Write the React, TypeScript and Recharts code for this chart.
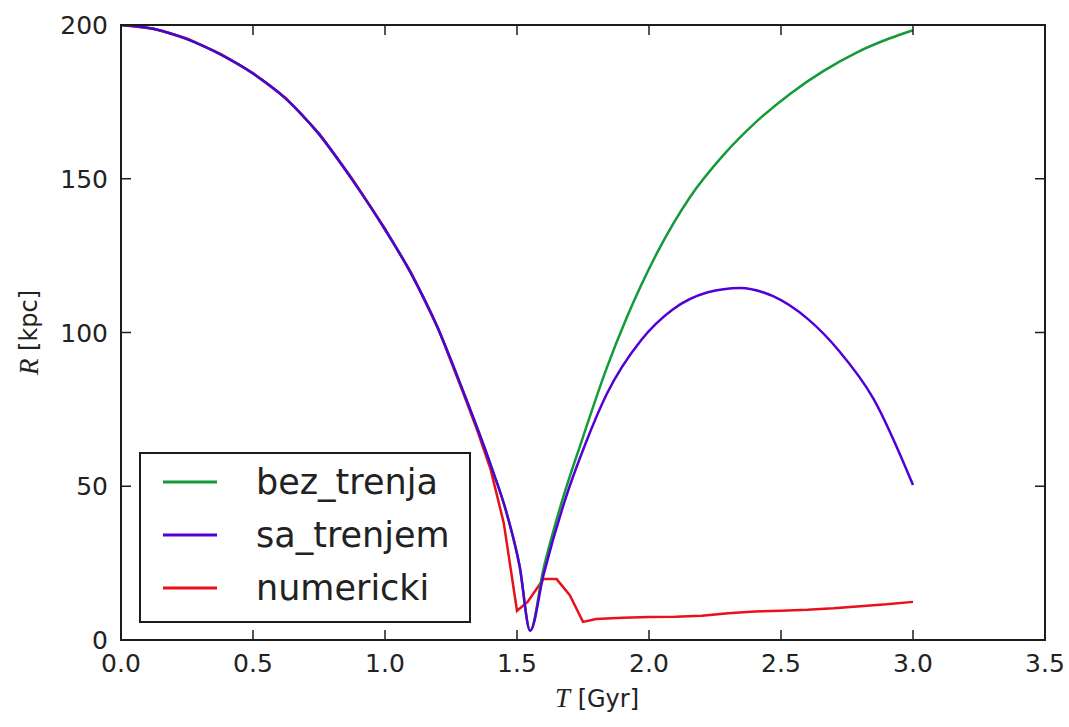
import { LineChart, Line, XAxis, YAxis, Legend, Label, ReferenceArea } from 'recharts';

// values (T in Gyr, R in kpc)
const T_BEZ = [0, 0.125, 0.25, 0.375, 0.5, 0.625, 0.75, 0.875, 1.0, 1.1, 1.2, 1.3, 1.4, 1.46, 1.51, 1.55, 1.6, 1.663, 1.75, 1.84, 1.915, 2.03, 2.155, 2.28, 2.41, 2.534, 2.66, 2.79, 2.91, 3.0];
const R_BEZ = [200, 198.7, 195.4, 190.5, 184.2, 176, 164.5, 149.8, 133.5, 119, 101.5, 80, 57, 41.5, 24, 3, 23, 43, 66, 88.5, 104.7, 125.8, 144, 157.5, 168.8, 177.6, 185, 191.2, 195.6, 198.3];

const T_SA = [0, 0.125, 0.25, 0.375, 0.5, 0.625, 0.75, 0.875, 1.0, 1.1, 1.2, 1.3, 1.4, 1.46, 1.51, 1.55, 1.6, 1.68, 1.76, 1.84, 1.97, 2.09, 2.22, 2.345, 2.47, 2.6, 2.72, 2.85, 3.0];
const R_SA = [200, 198.7, 195.4, 190.5, 184.2, 176, 164.5, 149.8, 133.5, 119, 101.5, 80, 57, 41.5, 24, 3, 21, 45, 64, 80, 97.5, 107.5, 113, 114.5, 111.8, 104.5, 94, 78.5, 50.4];

const T_NUM = [0, 0.125, 0.25, 0.375, 0.5, 0.625, 0.75, 0.875, 1.0, 1.1, 1.2, 1.3, 1.35, 1.4, 1.45, 1.5, 1.54, 1.6, 1.65, 1.7, 1.75, 1.8, 1.9, 2.0, 2.1, 2.2, 2.3, 2.4, 2.5, 2.6, 2.7, 2.8, 2.9, 3.0];
const R_NUM = [200, 198.8, 195.6, 190.7, 184.4, 176.2, 164.8, 150.1, 133.8, 119.3, 101.6, 79.5, 68, 55.5, 38, 9.5, 12.4, 19.8, 19.8, 14.6, 5.9, 6.8, 7.2, 7.5, 7.6, 7.9, 8.7, 9.3, 9.5, 9.8, 10.3, 11, 11.6, 12.4];

const X_TICKS = [0, 0.5, 1.0, 1.5, 2.0, 2.5, 3.0, 3.5];
const Y_TICKS = [0, 50, 100, 150, 200];

const SERIES = [
  { name: 'bez_trenja', color: '#159a3a' },
  { name: 'sa_trenjem', color: '#5200d6' },
  { name: 'numericki', color: '#e8101a' },
];

const toRows = (ts: number[], rs: number[]) => ts.map((t, i) => ({ t, r: rs[i] }));
const bezData = toRows(T_BEZ, R_BEZ);
const saData = toRows(T_SA, R_SA);
const numData = toRows(T_NUM, R_NUM);

const FRAME = '#1c1c1c';
const SANS = '"DejaVu Sans", sans-serif';

function BottomTick({ x, y, payload }: any) {
  return (
    <g>
      <line x1={x} y1={y} x2={x} y2={y - 10} stroke={FRAME} strokeWidth={1.5} />
      <text x={x} y={y + 32} textAnchor="middle" fontSize={25} fill="#222" fontFamily={SANS}>
        {Number(payload.value).toFixed(1)}
      </text>
    </g>
  );
}

function TopTick({ x, y }: any) {
  return <line x1={x} y1={y} x2={x} y2={y + 10} stroke={FRAME} strokeWidth={1.5} />;
}

function LeftTick({ x, y, payload }: any) {
  return (
    <g>
      <line x1={x} y1={y} x2={x + 10} y2={y} stroke={FRAME} strokeWidth={1.5} />
      <text x={x - 13} y={y + 9} textAnchor="end" fontSize={25} fill="#222" fontFamily={SANS}>
        {payload.value}
      </text>
    </g>
  );
}

function RightTick({ x, y }: any) {
  return <line x1={x} y1={y} x2={x - 10} y2={y} stroke={FRAME} strokeWidth={1.5} />;
}

function XTitle({ viewBox }: any) {
  const cx = viewBox.x + viewBox.width / 2 + 14;
  return (
    <text x={cx} y={viewBox.y + 67} textAnchor="middle" fontSize={24} fill="#222" fontFamily={SANS}>
      <tspan fontFamily='"Liberation Serif", serif' fontStyle="italic" fontSize={27}>T</tspan>
      <tspan> [Gyr]</tspan>
    </text>
  );
}

function YTitle({ viewBox }: any) {
  const cx = viewBox.x + 29;
  const cy = viewBox.y + viewBox.height / 2;
  return (
    <text
      x={cx}
      y={cy}
      transform={`rotate(-90, ${cx}, ${cy})`}
      textAnchor="middle"
      dominantBaseline="central"
      fontSize={24}
      fill="#222"
      fontFamily={SANS}
    >
      <tspan fontFamily='"Liberation Serif", serif' fontStyle="italic" fontSize={27}>R</tspan>
      <tspan> [kpc]</tspan>
    </text>
  );
}

function LegendBox() {
  return (
    <svg width={332} height={171} style={{ display: 'block' }}>
      <rect x={1} y={1} width={330} height={169} fill="#fff" stroke={FRAME} strokeWidth={2} />
      {SERIES.map((s, i) => (
        <g key={s.name}>
          <line x1={24} x2={78} y1={30 + 53 * i} y2={30 + 53 * i} stroke={s.color} strokeWidth={3} />
          <text
            x={117}
            y={30 + 53 * i}
            dominantBaseline="central"
            fontSize={35}
            fill="#222"
            fontFamily={SANS}
          >
            {s.name}
          </text>
        </g>
      ))}
    </svg>
  );
}

export default function App() {
  return (
    <div style={{ position: 'absolute', left: 0, top: 0, width: 1069, height: 727, background: '#fff' }}>
      <LineChart width={1069} height={727} margin={{ top: 24, right: 23, bottom: 0, left: 0 }}>
        <XAxis
          dataKey="t"
          type="number"
          domain={[0, 3.5]}
          allowDataOverflow
          ticks={X_TICKS}
          interval={0}
          height={87}
          tickSize={0}
          tickMargin={0}
          tickLine={false}
          tick={<BottomTick />}
          axisLine={{ stroke: FRAME, strokeWidth: 2 }}
        >
          <Label content={<XTitle />} />
        </XAxis>
        <XAxis
          xAxisId="top"
          orientation="top"
          dataKey="t"
          type="number"
          domain={[0, 3.5]}
          allowDataOverflow
          ticks={X_TICKS}
          interval={0}
          height={1}
          tickSize={0}
          tickMargin={0}
          tickLine={false}
          tick={<TopTick />}
          axisLine={{ stroke: FRAME, strokeWidth: 2 }}
        />
        <YAxis
          type="number"
          domain={[0, 200]}
          allowDataOverflow
          ticks={Y_TICKS}
          interval={0}
          width={121}
          tickSize={0}
          tickMargin={0}
          tickLine={false}
          tick={<LeftTick />}
          axisLine={{ stroke: FRAME, strokeWidth: 2 }}
        >
          <Label content={<YTitle />} />
        </YAxis>
        <YAxis
          yAxisId="right"
          orientation="right"
          type="number"
          domain={[0, 200]}
          allowDataOverflow
          ticks={Y_TICKS}
          interval={0}
          width={1}
          tickSize={0}
          tickMargin={0}
          tickLine={false}
          tick={<RightTick />}
          axisLine={{ stroke: FRAME, strokeWidth: 2 }}
        />
        <ReferenceArea x1={0} x2={3.5} y1={0} y2={200} fill="none" stroke={FRAME} strokeWidth={2} />
        <Line data={numData} dataKey="r" name="numericki" type="linear" stroke={SERIES[2].color} strokeWidth={2.5} dot={false} activeDot={false} isAnimationActive={false} />
        <Line data={bezData} dataKey="r" name="bez_trenja" type="monotone" stroke={SERIES[0].color} strokeWidth={2.5} dot={false} activeDot={false} isAnimationActive={false} />
        <Line data={saData} dataKey="r" name="sa_trenjem" type="monotone" stroke={SERIES[1].color} strokeWidth={2.5} dot={false} activeDot={false} isAnimationActive={false} />
        <Legend
          layout="vertical"
          align="center"
          verticalAlign="middle"
          content={<LegendBox />}
          wrapperStyle={{ left: 139, top: 452, width: 332, height: 171 }}
        />
      </LineChart>
    </div>
  );
}
